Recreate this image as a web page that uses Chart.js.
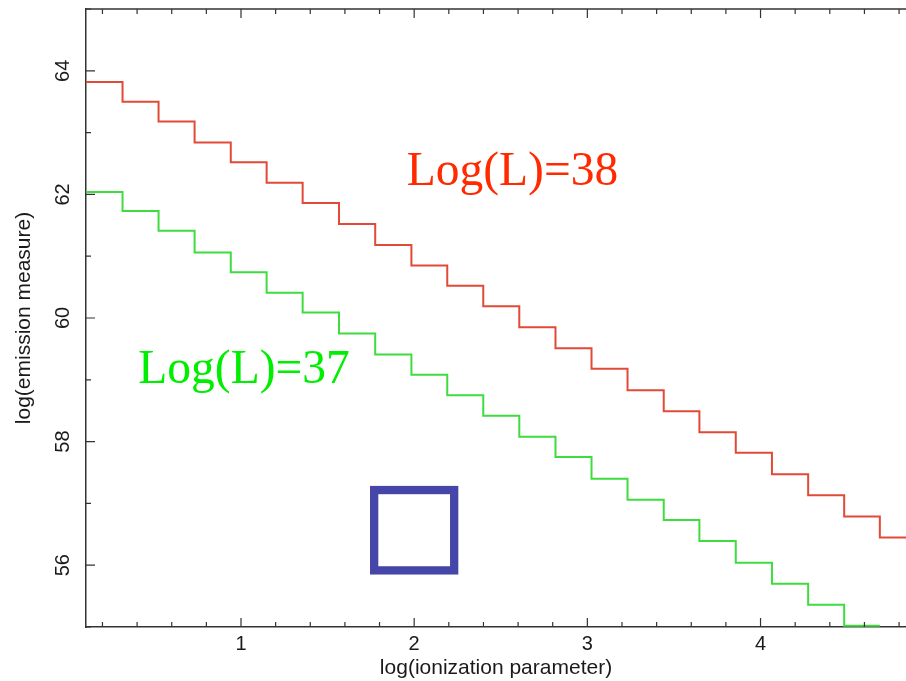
<!DOCTYPE html>
<html>
<head>
<meta charset="utf-8">
<script src="https://cdn.jsdelivr.net/npm/chart.js@4.4.0/dist/chart.umd.min.js"></script>
<style>
  body { margin: 0; background: #fff; }
  #wrap { width: 906px; height: 681px; }
</style>
</head>
<body>
<div id="wrap"><canvas id="grafico" width="906" height="681"></canvas></div>
<script>
// Bordes de los escalones en log(ionization parameter)
const bordes_x = [0.105, 0.316, 0.524, 0.732, 0.941, 1.148, 1.356, 1.566, 1.775, 1.984, 2.191, 2.399,
  2.607, 2.816, 3.024, 3.232, 3.441, 3.647, 3.857, 4.066, 4.275, 4.483, 4.689, 4.84];

// Niveles de cada escalon, log(emission measure)
const nivel_L38 = [63.82, 63.50, 63.18, 62.84, 62.52, 62.19, 61.86, 61.52, 61.18, 60.85, 60.52, 60.19,
  59.85, 59.51, 59.18, 58.83, 58.49, 58.15, 57.82, 57.47, 57.13, 56.79, 56.45];
const nivel_L37 = [62.04, 61.73, 61.41, 61.06, 60.74, 60.41, 60.09, 59.75, 59.41, 59.08, 58.75, 58.42,
  58.08, 57.75, 57.40, 57.06, 56.73, 56.39, 56.04, 55.70, 55.36, 55.02];

const ticks_x = [1, 2, 3, 4];
const ticks_y = [56, 58, 60, 62, 64];
const etiquetas = ["Log(L)=38", "Log(L)=37"];

// convierte niveles en puntos para la linea escalonada
function escalones(niveles) {
  const n = niveles.length;
  return bordes_x.slice(0, n + 1).map((x, i) => ({ x: x, y: niveles[Math.min(i, n - 1)] }));
}

const fuenteEje = "'Liberation Sans', Arial, Helvetica, sans-serif";

// Dibuja marcas hacia adentro, eje superior, textos y el cuadrado azul
const extras = {
  id: "extras",
  afterDatasetsDraw(chart) {
    const { ctx, chartArea: a, scales } = chart;
    const sx = scales.x, sy = scales.y;
    ctx.save();

    // cuadrado azul
    const x1 = sx.getPixelForValue(1.769), x2 = sx.getPixelForValue(2.231);
    const y1 = sy.getPixelForValue(57.216), y2 = sy.getPixelForValue(55.916);
    ctx.strokeStyle = "#4646a8";
    ctx.lineWidth = 8.3;
    ctx.strokeRect(x1, y1, x2 - x1, y2 - y1);

    // textos de cada curva
    ctx.font = "47.5px 'Liberation Serif', 'Times New Roman', serif";
    ctx.textBaseline = "alphabetic";
    ctx.textAlign = "left";
    ctx.fillStyle = "#ff2a00";
    ctx.fillText(etiquetas[0], sx.getPixelForValue(1.957), sy.getPixelForValue(62.15));
    ctx.fillStyle = "#00ee00";
    ctx.fillText(etiquetas[1], sx.getPixelForValue(0.407), sy.getPixelForValue(58.95));

    // eje superior
    ctx.strokeStyle = "#333";
    ctx.lineWidth = 1.5;
    ctx.beginPath();
    ctx.moveTo(a.left, a.top);
    ctx.lineTo(a.right, a.top);
    ctx.stroke();

    // marcas del eje x (abajo y arriba)
    ctx.lineWidth = 1.2;
    ctx.beginPath();
    for (let k = 1; k <= 24; k++) {
      const v = k * 0.2;
      const px = sx.getPixelForValue(v);
      if (px < a.left || px > a.right) continue;
      const largo = Math.abs(v - Math.round(v)) < 1e-6 ? 9 : 5;
      ctx.moveTo(px, a.bottom);
      ctx.lineTo(px, a.bottom - largo);
      ctx.moveTo(px, a.top);
      ctx.lineTo(px, a.top + largo);
    }
    // marcas del eje y
    for (let v = 55; v <= 65; v++) {
      const py = sy.getPixelForValue(v);
      const largo = ticks_y.includes(v) ? 9 : 5;
      ctx.moveTo(a.left, py);
      ctx.lineTo(a.left + largo, py);
    }
    ctx.stroke();
    ctx.restore();
  }
};

new Chart(document.getElementById("grafico"), {
  type: "line",
  data: {
    datasets: [
      {
        label: etiquetas[0],
        data: escalones(nivel_L38),
        borderColor: "#e24a38",
        borderWidth: 2,
        pointRadius: 0,
        stepped: true,
        fill: false,
      },
      {
        label: etiquetas[1],
        data: escalones(nivel_L37),
        borderColor: "#3fdc3f",
        borderWidth: 2,
        pointRadius: 0,
        stepped: true,
        fill: false,
      },
    ],
  },
  options: {
    responsive: false,
    animation: false,
    layout: { padding: { top: 9, right: 0, left: 0, bottom: 0 }, autoPadding: false },
    plugins: { legend: { display: false }, tooltip: { enabled: false } },
    scales: {
      x: {
        type: "linear",
        min: 0.105,
        max: 4.84,
        afterBuildTicks: (s) => { s.ticks = ticks_x.map((v) => ({ value: v })); },
        afterFit: (s) => { s.height = 54; s.paddingLeft = 0; s.paddingRight = 0; },
        grid: { display: false, drawTicks: false },
        border: { display: true, color: "#333", width: 1.5 },
        ticks: { color: "#1a1a1a", padding: 5, autoSkip: false, maxRotation: 0,
          font: { family: fuenteEje, size: 20 } },
        title: { display: true, text: "log(ionization parameter)", color: "#1a1a1a",
          padding: { top: 0, bottom: 0 }, font: { family: fuenteEje, size: 21 } },
      },
      y: {
        type: "linear",
        min: 55,
        max: 65,
        afterBuildTicks: (s) => { s.ticks = ticks_y.map((v) => ({ value: v })); },
        afterFit: (s) => { s.width = 86; s.paddingTop = 0; s.paddingBottom = 0; },
        grid: { display: false, drawTicks: false },
        border: { display: true, color: "#333", width: 1.5 },
        ticks: { color: "#1a1a1a", padding: 11, autoSkip: false, minRotation: 90, maxRotation: 90,
          crossAlign: "center", font: { family: fuenteEje, size: 20 } },
        title: { display: true, text: "log(emission measure)", color: "#1a1a1a",
          padding: { top: 12, bottom: 0 }, font: { family: fuenteEje, size: 21 } },
      },
    },
  },
  plugins: [extras],
});
</script>
</body>
</html>
